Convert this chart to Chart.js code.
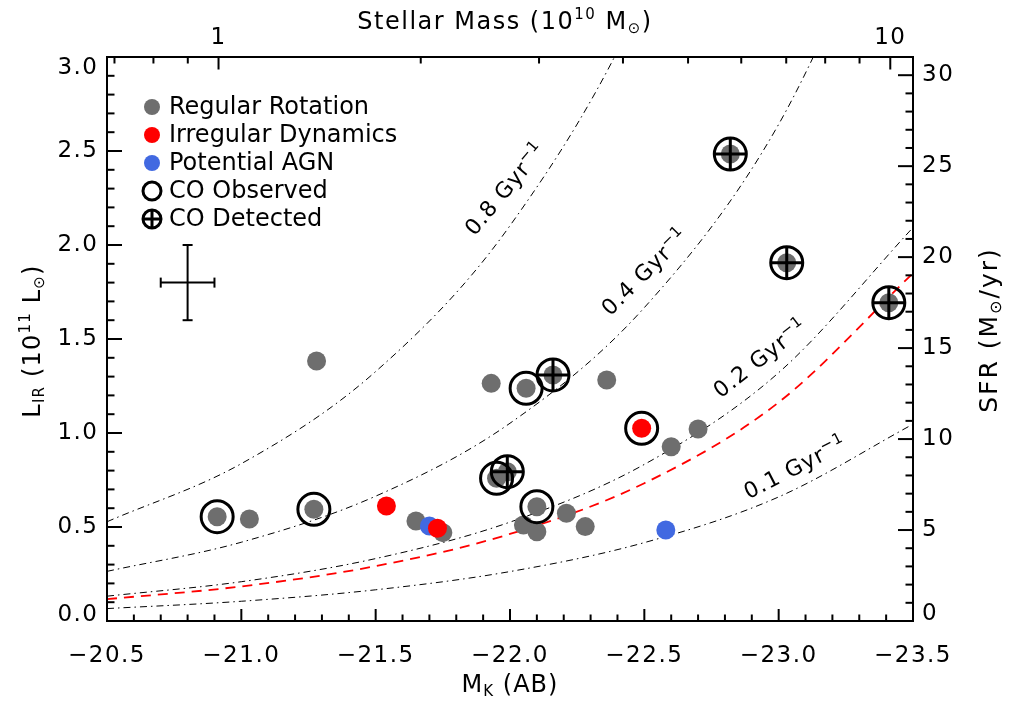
<!DOCTYPE html>
<html>
<head>
<meta charset="utf-8">
<script src="https://cdn.jsdelivr.net/npm/chart.js@4.4.0/dist/chart.umd.min.js"></script>
<style>
  html, body { margin: 0; padding: 0; background: #fff; }
  #wrap { width: 1011px; height: 704px; }
</style>
</head>
<body>
<div id="wrap"><canvas id="lirChart"></canvas></div>
<script>
// ================== DATA ============================== //
// galaxies: K-band abs. magnitude (AB) and IR luminosity (1e11 Lsun)
const galMK  = [-20.91, -21.03, -21.27, -21.28, -21.54, -21.65, -21.75, -21.70, -21.73,
                -21.93, -22.06, -22.16, -22.36, -22.49, -22.70, -22.60, -21.95, -21.99,
                -22.10, -22.05, -22.10, -22.21, -22.28, -22.58, -22.82, -23.03, -23.41];
const galLIR = [0.555, 0.543, 0.594, 1.383, 0.612, 0.532, 0.470, 0.505, 0.493,
                1.264, 1.238, 1.309, 1.282, 1.025, 1.021, 0.927, 0.759, 0.794,
                0.608, 0.511, 0.475, 0.573, 0.502, 0.484, 2.484, 1.906, 1.693];
// reg = regular rotation, irr = irregular dynamics, agn = potential AGN
const galDyn = ['reg', 'reg', 'reg', 'reg', 'irr', 'reg', 'reg', 'agn', 'irr',
                'reg', 'reg', 'reg', 'reg', 'irr', 'reg', 'reg', 'reg', 'reg',
                'reg', 'reg', 'reg', 'reg', 'reg', 'agn', 'reg', 'reg', 'reg'];
// 0 = no CO, 1 = CO observed, 2 = CO detected
const galCO  = [1, 0, 1, 0, 0, 0, 0, 0, 0,
                0, 1, 2, 0, 1, 0, 0, 1, 2,
                1, 0, 0, 0, 0, 0, 2, 2, 2];

// constant specific SFR tracks (L_IR read along M_K)
const curveMK = [-20.5, -21.0, -21.5, -22.0, -22.5, -23.0, -23.5];
const ssfr01  = [0.066, 0.105, 0.166, 0.263, 0.417, 0.660, 1.047];
const ssfr02  = [0.132, 0.209, 0.332, 0.526, 0.833, 1.321, 2.093];
const ssfr04  = [0.264, 0.419, 0.664, 1.052, 1.667, 2.642, 4.190];
const ssfr08  = [0.528, 0.837, 1.327, 2.103, 3.330, 5.280, 8.370];
const redFit  = [0.116, 0.184, 0.292, 0.463, 0.733, 1.163, 1.850];

const curveNames = ['0.8', '0.4', '0.2', '0.1'];
const curveLabelMK  = [-21.98, -22.50, -22.93, -23.06];
const curveLabelLIR = [2.30, 1.86, 1.40, 0.82];

// typical error bar
const errMK = -20.80, errLIR = 1.80, errDMK = 0.10, errDLIR = 0.20;

// tick labels
const mkTicks   = [-20.5, -21.0, -21.5, -22.0, -22.5, -23.0, -23.5];
const lirTicks  = [0, 0.5, 1.0, 1.5, 2.0, 2.5, 3.0];
const sfrTicks  = [0, 5, 10, 15, 20, 25, 30];
const massTicks = [1, 10];
const massMinor = [0.7, 0.8, 0.9, 2, 3, 4, 5, 6, 7, 8, 9];

// axis ranges (SFR and stellar mass follow L_IR and M_K)
const sfrMax = 31;
const massMin = 0.6823, massMax = 10.81;

// ================== HELPERS ============================== //
const FONT = '"DejaVu Sans", sans-serif';

function pts(xs, ys) { return xs.map((x, i) => ({ x: x, y: ys[i] })); }

function pick(dyn) {
  const out = [];
  galMK.forEach((x, i) => { if (galDyn[i] === dyn) out.push({ x: x, y: galLIR[i] }); });
  return out;
}

function pickCO(level) {
  const out = [];
  galMK.forEach((x, i) => { if (galCO[i] === level) out.push({ x: x, y: galLIR[i] }); });
  return out;
}

// parts: [text, size, dy]
function drawRich(ctx, parts, x, y, angle, baseDy, spacing) {
  ctx.save();
  ctx.translate(x, y);
  ctx.rotate(angle * Math.PI / 180);
  ctx.letterSpacing = (spacing || 0) + 'px';
  ctx.textAlign = 'left';
  ctx.textBaseline = 'alphabetic';
  ctx.fillStyle = '#000';
  let w = 0;
  parts.forEach(p => { ctx.font = p[1] + 'px ' + FONT; w += ctx.measureText(p[0]).width; });
  let cx = -w / 2;
  parts.forEach(p => {
    ctx.font = p[1] + 'px ' + FONT;
    ctx.fillText(p[0], cx, (baseDy || 0) + (p[2] || 0));
    cx += ctx.measureText(p[0]).width;
  });
  ctx.restore();
}

function seg(ctx, x1, y1, x2, y2) {
  ctx.beginPath();
  ctx.moveTo(x1, y1);
  ctx.lineTo(x2, y2);
  ctx.stroke();
}

// ================== PLUGIN: frame, inward ticks, titles, legend ============ //
const decor = {
  id: 'decor',
  beforeDraw(chart) {
    chart.ctx.letterSpacing = '1.5px';
  },
  afterDraw(chart) {
    const { ctx, chartArea: a, scales } = chart;
    ctx.save();
    ctx.letterSpacing = '0px';
    ctx.strokeStyle = '#000';
    ctx.lineWidth = 2;
    ctx.strokeRect(a.left, a.top, a.right - a.left, a.bottom - a.top);

    // bottom M_K ticks (major 0.5, minor 0.1)
    for (let i = 0; i <= 30; i++) {
      const px = scales.x.getPixelForValue(-20.5 - i * 0.1);
      seg(ctx, px, a.bottom, px, a.bottom - (i % 5 === 0 ? 12 : 6.5));
    }
    // top stellar mass ticks
    massTicks.forEach(v => { const px = scales.x2.getPixelForValue(v); seg(ctx, px, a.top, px, a.top + 12.5); });
    massMinor.forEach(v => { const px = scales.x2.getPixelForValue(v); seg(ctx, px, a.top, px, a.top + 6.5); });
    // left L_IR ticks
    for (let i = 0; i <= 30; i++) {
      const py = scales.y.getPixelForValue(i * 0.1);
      seg(ctx, a.left, py, a.left + (i % 5 === 0 ? 15 : 7.5), py);
    }
    // right SFR ticks
    for (let i = 0; i <= 30; i++) {
      const py = scales.y2.getPixelForValue(i);
      seg(ctx, a.right, py, a.right - (i % 5 === 0 ? 15 : 7.5), py);
    }

    // edge tick labels, kept inside the frame height like the original
    ctx.fillStyle = '#000';
    ctx.font = '23px ' + FONT;
    ctx.letterSpacing = '1.5px';
    ctx.textBaseline = 'middle';
    ctx.textAlign = 'right';
    ctx.fillText(lirTicks[lirTicks.length - 1].toFixed(1), a.left - 8.5, scales.y.getPixelForValue(3) + 11);
    ctx.fillText(lirTicks[0].toFixed(1), a.left - 8.5, scales.y.getPixelForValue(0) - 6);
    ctx.textAlign = 'left';
    ctx.fillText(String(sfrTicks[0]), a.right + 9, scales.y2.getPixelForValue(0) - 7);
    ctx.letterSpacing = '0px';

    // typical error bar
    const ex = scales.x.getPixelForValue(errMK), ey = scales.y.getPixelForValue(errLIR);
    const ex1 = scales.x.getPixelForValue(errMK + errDMK), ex2 = scales.x.getPixelForValue(errMK - errDMK);
    const ey1 = scales.y.getPixelForValue(errLIR - errDLIR), ey2 = scales.y.getPixelForValue(errLIR + errDLIR);
    seg(ctx, ex1, ey, ex2, ey);
    seg(ctx, ex, ey1, ex, ey2);
    seg(ctx, ex1, ey - 5, ex1, ey + 5);
    seg(ctx, ex2, ey - 5, ex2, ey + 5);
    seg(ctx, ex - 5, ey1, ex + 5, ey1);
    seg(ctx, ex - 5, ey2, ex + 5, ey2);

    // sSFR labels along the tracks
    const angles = [-50, -45, -38, -27];
    curveNames.forEach((t, i) => {
      drawRich(ctx, [[t + ' Gyr', 22, 0], ['\u22121', 15, -9]],
        scales.x.getPixelForValue(curveLabelMK[i]), scales.y.getPixelForValue(curveLabelLIR[i]), angles[i], 8, 1);
    });

    // axis titles
    drawRich(ctx, [['M', 24, 0], ['K', 15, 4], [' (AB)', 24, 0]], (a.left + a.right) / 2, 692, 0, 0, 1);
    drawRich(ctx, [['Stellar Mass (10', 24, 0], ['10', 15, -10], [' M', 24, 0], ['\u2299', 15, 4], [')', 24, 0]],
      505, 29, 0, 0, 1.5);
    drawRich(ctx, [['L', 24, 0], ['IR', 15, 4], [' (10', 24, 0], ['11', 15, -10], [' L', 24, 0], ['\u2299', 15, 4], [')', 24, 0]],
      40, 341, -90, 0, 1.2);
    drawRich(ctx, [['SFR (M', 25, 0], ['\u2299', 16, 4], ['/yr)', 25, 0]], 997, 330, -90, 0, 2);

    // legend
    const lx = a.left + 45, ly = a.top + 50, step = 28;
    const fills = ['#6e6e6e', '#ff0000', '#4169e1'];
    const names = ['Regular Rotation', 'Irregular Dynamics', 'Potential AGN', 'CO Observed', 'CO Detected'];
    ctx.font = '24px ' + FONT;
    ctx.textAlign = 'left';
    ctx.textBaseline = 'middle';
    names.forEach((n, i) => {
      const y = ly + i * step;
      ctx.lineWidth = 3;
      if (i < 3) {
        ctx.fillStyle = fills[i];
        ctx.beginPath(); ctx.arc(lx, y, 8, 0, Math.PI * 2); ctx.fill();
      } else {
        ctx.beginPath(); ctx.arc(lx, y, 9, 0, Math.PI * 2); ctx.stroke();
        if (i === 4) { seg(ctx, lx - 9, y, lx + 9, y); seg(ctx, lx, y - 9, lx, y + 9); }
      }
      ctx.fillStyle = '#000';
      ctx.fillText(n, lx + 17, y + 1);
    });
    ctx.restore();
  }
};

// ================== CHART ============================== //
const trackStyle = {
  showLine: true, pointRadius: 0, borderColor: '#000', borderWidth: 1,
  borderDash: [7, 4, 1.5, 4], cubicInterpolationMode: 'monotone', fill: false, order: 5
};

const ctx = document.getElementById('lirChart');
const lirChart = new Chart(ctx, {
  type: 'scatter',
  data: {
    datasets: [
      Object.assign({ label: '0.1', data: pts(curveMK, ssfr01) }, trackStyle),
      Object.assign({ label: '0.2', data: pts(curveMK, ssfr02) }, trackStyle),
      Object.assign({ label: '0.4', data: pts(curveMK, ssfr04) }, trackStyle),
      Object.assign({ label: '0.8', data: pts(curveMK, ssfr08) }, trackStyle),
      {
        label: 'fit', data: pts(curveMK, redFit), showLine: true, pointRadius: 0,
        borderColor: '#ff0000', borderWidth: 1.8, borderDash: [10, 7],
        cubicInterpolationMode: 'monotone', fill: false, order: 4
      },
      { label: 'Regular Rotation', data: pick('reg'), pointRadius: 9.5, pointBorderWidth: 0, backgroundColor: '#6e6e6e', order: 3 },
      { label: 'Potential AGN', data: pick('agn'), pointRadius: 9.5, pointBorderWidth: 0, backgroundColor: '#4169e1', order: 2 },
      { label: 'Irregular Dynamics', data: pick('irr'), pointRadius: 9.5, pointBorderWidth: 0, backgroundColor: '#ff0000', order: 1 },
      { label: 'CO Observed', data: pickCO(1).concat(pickCO(2)), pointRadius: 16, pointBorderWidth: 3,
        borderColor: '#000', backgroundColor: 'rgba(0,0,0,0)', order: 0 },
      { label: 'CO Detected', data: pickCO(2), pointStyle: 'cross', pointRadius: 16, pointBorderWidth: 3,
        borderColor: '#000', backgroundColor: 'rgba(0,0,0,0)', order: 0 }
    ]
  },
  options: {
    responsive: true,
    maintainAspectRatio: false,
    animation: false,
    events: [],
    layout: { padding: 0 },
    plugins: { legend: { display: false }, tooltip: { enabled: false } },
    scales: {
      x: {
        type: 'linear', position: 'bottom', min: -23.5, max: -20.5, reverse: true,
        grid: { display: false, drawTicks: false }, border: { display: false },
        ticks: {
          autoSkip: false, maxRotation: 0, padding: 21, color: '#000', font: { family: FONT, size: 23 },
          callback: v => (v < 0 ? '\u2212' : '') + Math.abs(v).toFixed(1)
        },
        afterBuildTicks: s => { s.ticks = mkTicks.map(v => ({ value: v })); },
        afterFit: s => { s.height = 83; }
      },
      x2: {
        type: 'logarithmic', position: 'top', min: massMin, max: massMax,
        grid: { display: false, drawTicks: false }, border: { display: false },
        ticks: {
          autoSkip: false, maxRotation: 0, padding: 5, color: '#000', font: { family: FONT, size: 23 },
          callback: v => String(v)
        },
        afterBuildTicks: s => { s.ticks = massTicks.map(v => ({ value: v })); },
        afterFit: s => { s.height = 57; }
      },
      y: {
        type: 'linear', position: 'left', min: 0, max: 3,
        grid: { display: false, drawTicks: false }, border: { display: false },
        ticks: {
          autoSkip: false, padding: 8.5, color: '#000', font: { family: FONT, size: 23 },
          callback: v => v.toFixed(1)
        },
        // edge labels (0.0 and 3.0) are drawn by the decor plugin
        afterBuildTicks: s => { s.ticks = lirTicks.slice(1, -1).map(v => ({ value: v })); },
        afterFit: s => { s.width = 107; }
      },
      y2: {
        type: 'linear', position: 'right', min: 0, max: sfrMax,
        grid: { display: false, drawTicks: false }, border: { display: false },
        ticks: {
          autoSkip: false, padding: 9, color: '#000', font: { family: FONT, size: 23 },
          callback: v => String(v)
        },
        afterBuildTicks: s => { s.ticks = sfrTicks.slice(1).map(v => ({ value: v })); },
        afterFit: s => { s.width = 98; }
      }
    }
  },
  plugins: [decor]
});
</script>
</body>
</html>
